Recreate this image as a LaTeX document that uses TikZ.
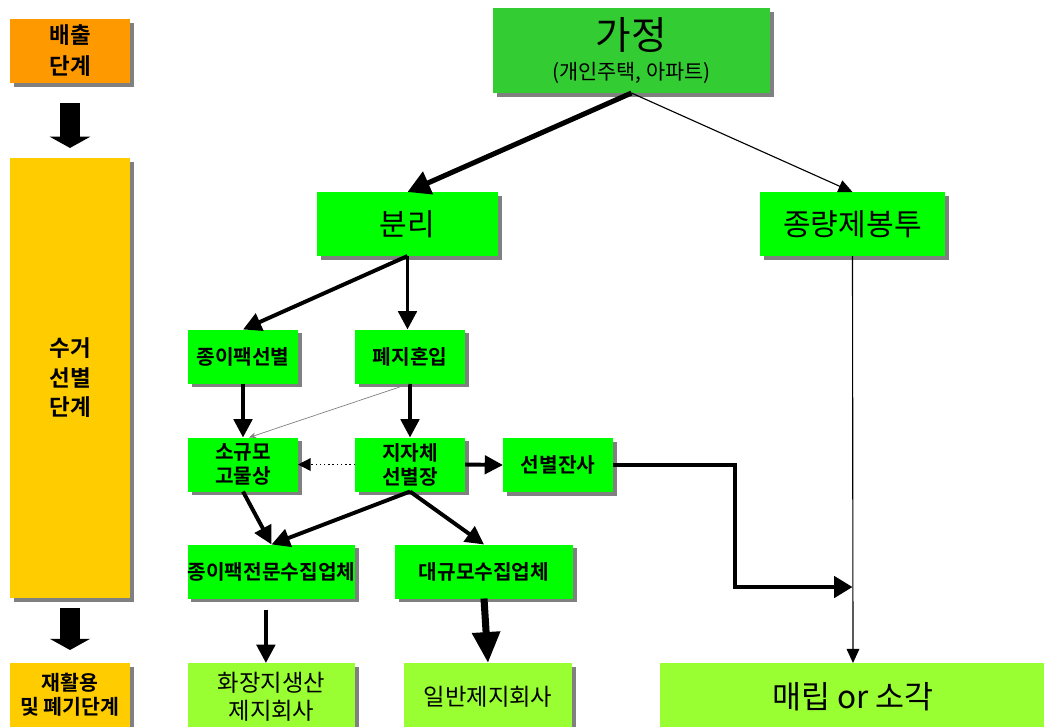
\documentclass[tikz,border=0pt]{standalone}
\usepackage{fontspec}
\setmainfont{Noto Sans CJK KR}[BoldFont={Noto Sans CJK KR Bold}]
\usetikzlibrary{arrows.meta,shadows}
\definecolor{stageorange}{HTML}{FF9900}
\definecolor{stageyellow}{HTML}{FFCC00}
\definecolor{homegreen}{HTML}{33CC33}
\definecolor{boxgreen}{HTML}{00FF00}
\definecolor{finalgreen}{HTML}{99FF33}
\definecolor{boxshadow}{HTML}{808080}
\begin{document}
\begin{tikzpicture}[x=0.025cm,y=-0.025cm,
		every node/.style={outer sep=0pt,inner sep=0pt,align=center},
		shadebox/.style={drop shadow={shadow xshift=0.09cm,shadow yshift=-0.09cm,fill=boxshadow,opacity=1}},
		stage/.style={shadebox,fill=stageyellow,minimum width=3cm,font=\bfseries\fontsize{16}{22}\selectfont},
		box/.style={shadebox,fill=boxgreen,minimum width=2.75cm,minimum height=1.35cm,font=\bfseries\fontsize{14.4}{17}\selectfont},
		final/.style={shadebox,fill=finalgreen,minimum height=1.7cm,font=\fontsize{16.6}{20}\selectfont},
		link/.style={line width=2.8pt,-{Triangle[width=13pt,length=13pt]}},
		thinlink/.style={line width=0.8pt,-{Triangle[width=9pt,length=10pt]}},
		bigarrow/.style={line width=14pt,-{Triangle[width=28.5pt,length=8pt]}},
		]
		\clip (0,0) rectangle (1044,726);

		% stages on the left
		\node[stage,fill=stageorange,minimum height=1.6cm] (s1) at (70,51) {배출\\단계};
		\node[stage,minimum height=11cm,font=\bfseries\fontsize{16}{21}\selectfont] (s2) at (70,378) {수거\\선별\\단계};
		\node[stage,minimum height=1.6cm,font=\bfseries\fontsize{14.6}{17}\selectfont] (s3) at (70,695) {재활용\\및 폐기단계};
		\draw[bigarrow,shorten <=0.5cm,shorten >=0.25cm] (s1.south) -- (s2.north);
		\draw[bigarrow,shorten <=0.25cm,shorten >=0.325cm] (s2.south) -- (s3.north);

		% flow
		\node[shadebox,fill=homegreen,minimum width=6.925cm,minimum height=2.125cm,font=\fontsize{14.8}{21}\selectfont] (home) at (631.5,50.5)
			{{\fontsize{27.5}{21}\selectfont 가정}\\(개인주택, 아파트)};
		\node[box,minimum width=4.525cm,minimum height=1.6cm,font=\fontsize{21.4}{24}\selectfont] (sep) at (407.5,224) {분리};
		\node[box,minimum width=4.625cm,minimum height=1.6cm,font=\fontsize{21.4}{24}\selectfont] (bag) at (852.5,224) {종량제봉투};
		\node[box] (pick) at (243,356.5) {종이팩선별};
		\node[box] (mix) at (410,356.5) {폐지혼입};
		\node[box] (small) at (243,464.5) {소규모\\고물상};
		\node[box] (city) at (410,464.5) {지자체\\선별장};
		\node[box] (rest) at (558,465) {선별잔사};
		\node[box,minimum width=4.175cm] (paper) at (271.5,571.5) {종이팩전문수집업체};
		\node[box,minimum width=4.45cm] (large) at (484,571.5) {대규모수집업체};
		\node[final,minimum width=4.175cm] (tissue) at (271.5,697) {화장지생산\\제지회사};
		\node[final,minimum width=4.2cm] (mill) at (488,697) {일반제지회사};
		\node[final,minimum width=9.65cm,font=\fontsize{22.4}{24}\selectfont] (land) at (853,697) {매립 or 소각};
		\coordinate (merge) at (852.5,587);

		\draw[link,line width=3.6pt,-{Triangle[width=17pt,length=16pt]}] (home.south) -- (sep.north);
		\draw[thinlink] (home.south) -- (bag.north);
		\draw[link] (sep.south) -- (pick.north);
		\draw[link] (sep.south) -- (sep.south |- mix.north);
		\draw[link] (pick.south) -- (small.north);
		\draw[link] (mix.south) -- (city.north);
		\draw[gray,line width=0.5pt,-{Stealth[length=5pt,width=4pt]}] (mix.south) -- ([xshift=0.15cm]small.north);
		\draw[dotted,line width=1pt,-{Triangle[width=9pt,length=9pt]}] (city.west) -- (small.east);
		\draw[link] (city.east) -- (rest.west);
		\draw[link,-{Triangle[width=15pt,length=13pt]}] (rest.east) -- ++(122,0) |- (merge);
		\draw[thinlink] (bag.south) -- (land.north);
		\draw[link] (small.south) -- (paper.north);
		\draw[link] (city.south) -- (paper.north);
		\draw[link] (city.south) -- (large.north);
		\draw[link,shorten <=0.28cm] ([xshift=-0.14cm]paper.south) -- ([xshift=-0.14cm]tissue.north);
		\draw[line width=5pt,-{Triangle[width=19pt,length=22pt]}] (large.south) -- (mill.north);
\end{tikzpicture}
\end{document}
